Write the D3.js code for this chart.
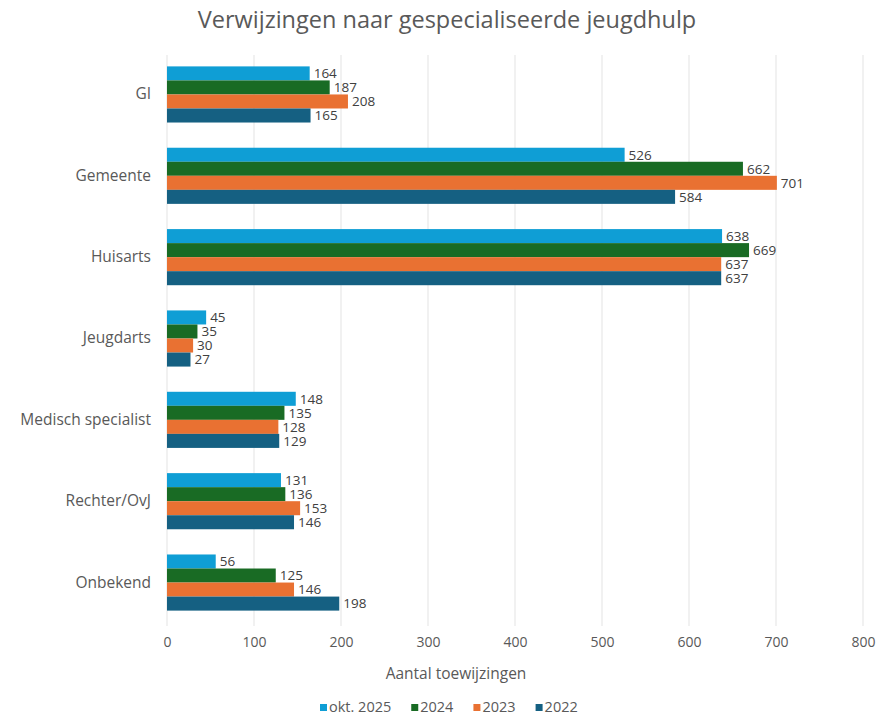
<!DOCTYPE html>
<html><head><meta charset="utf-8">
<script src="https://cdn.jsdelivr.net/npm/d3@7"></script>
<style>body{margin:0;background:#fff;} text{font-family:"Open Sans",Roboto,sans-serif;}</style>
</head><body>
<svg id="chart" width="882" height="717"></svg>
<script>
const categories = ["GI","Gemeente","Huisarts","Jeugdarts","Medisch specialist","Rechter/OvJ","Onbekend"];
const seriesNames = ["okt. 2025","2024","2023","2022"];
const okt2025 = [164,526,638,45,148,131,56];
const y2024 = [187,662,669,35,135,136,125];
const y2023 = [208,701,637,30,128,153,146];
const y2022 = [165,584,637,27,129,146,198];
const seriesValues = [okt2025,y2024,y2023,y2022];
const colors = ["#0F9ED5","#196B24","#E97132","#156082"];
const xTicks = [0,100,200,300,400,500,600,700,800];

const svg = d3.select("#chart");
const mLeft = 167, mRight = 863, mTop = 55, mBottom = 622;

svg.append("text").attr("x",447).attr("y",28).attr("text-anchor","middle")
  .attr("font-size",23.5).attr("fill","#595959").text("Verwijzingen naar gespecialiseerde jeugdhulp");

const x = d3.scaleLinear().domain([0,800]).range([mLeft,mRight]);
const y = d3.scaleBand().domain(categories).range([mTop,mBottom]).paddingInner(0.31).paddingOuter(0.14);
const ys = d3.scaleBand().domain(seriesNames).range([0,y.bandwidth()]);

// gridlines
svg.append("g").selectAll("line").data(xTicks).join("line")
  .attr("x1",d=>x(d)).attr("x2",d=>x(d)).attr("y1",mTop).attr("y2",mBottom+4)
  .attr("stroke","#e3e3e3").attr("stroke-width",1);

// x axis
const xAxis = d3.axisBottom(x).tickValues(xTicks).tickSize(0).tickPadding(0);
const gx = svg.append("g").attr("transform",`translate(0,${mBottom})`).call(xAxis);
gx.select(".domain").remove();
gx.selectAll("text").attr("font-size",14).attr("fill","#595959").attr("dy","0").attr("y",25)
  .style("font-family","'Open Sans',sans-serif");

// y axis
const yAxis = d3.axisLeft(y).tickSize(0).tickPadding(0);
const gy = svg.append("g").attr("transform",`translate(${mLeft-16},0)`).call(yAxis);
gy.select(".domain").remove();
gy.selectAll("text").attr("font-size",15.5).attr("fill","#595959").style("font-family","'Open Sans',sans-serif");

// bars
seriesNames.forEach((s,si)=>{
  const g = svg.append("g");
  g.selectAll("rect").data(categories).join("rect")
    .attr("x",x(0)).attr("y",c=>y(c)+ys(s))
    .attr("width",(c,i)=>x(seriesValues[si][i])-x(0))
    .attr("height",ys.bandwidth())
    .attr("fill",colors[si]);
  g.selectAll("text").data(categories).join("text")
    .attr("x",(c,i)=>x(seriesValues[si][i])+4)
    .attr("y",c=>y(c)+ys(s)+ys.bandwidth()/2)
    .attr("dy","0.36em").attr("font-size",13.5).attr("fill","#404040")
    .text((c,i)=>seriesValues[si][i]);
});

// axis title
svg.append("text").attr("x",456).attr("y",679).attr("text-anchor","middle")
  .attr("font-size",15.5).attr("fill","#595959").text("Aantal toewijzingen");

// legend
const legend = svg.append("g").attr("transform","translate(0,707)");
let lx = 320;
seriesNames.forEach((s,i)=>{
  const it = legend.append("g").attr("transform",`translate(${lx},0)`);
  it.append("rect").attr("x",0).attr("y",-3).attr("width",7).attr("height",7).attr("fill",colors[i]);
  const t = it.append("text").attr("x",9).attr("y",0).attr("dy","0.36em").attr("font-size",14.5).attr("fill","#595959").text(s);
  lx += 9 + t.node().getComputedTextLength() + 20;
});
</script>
</body></html>
